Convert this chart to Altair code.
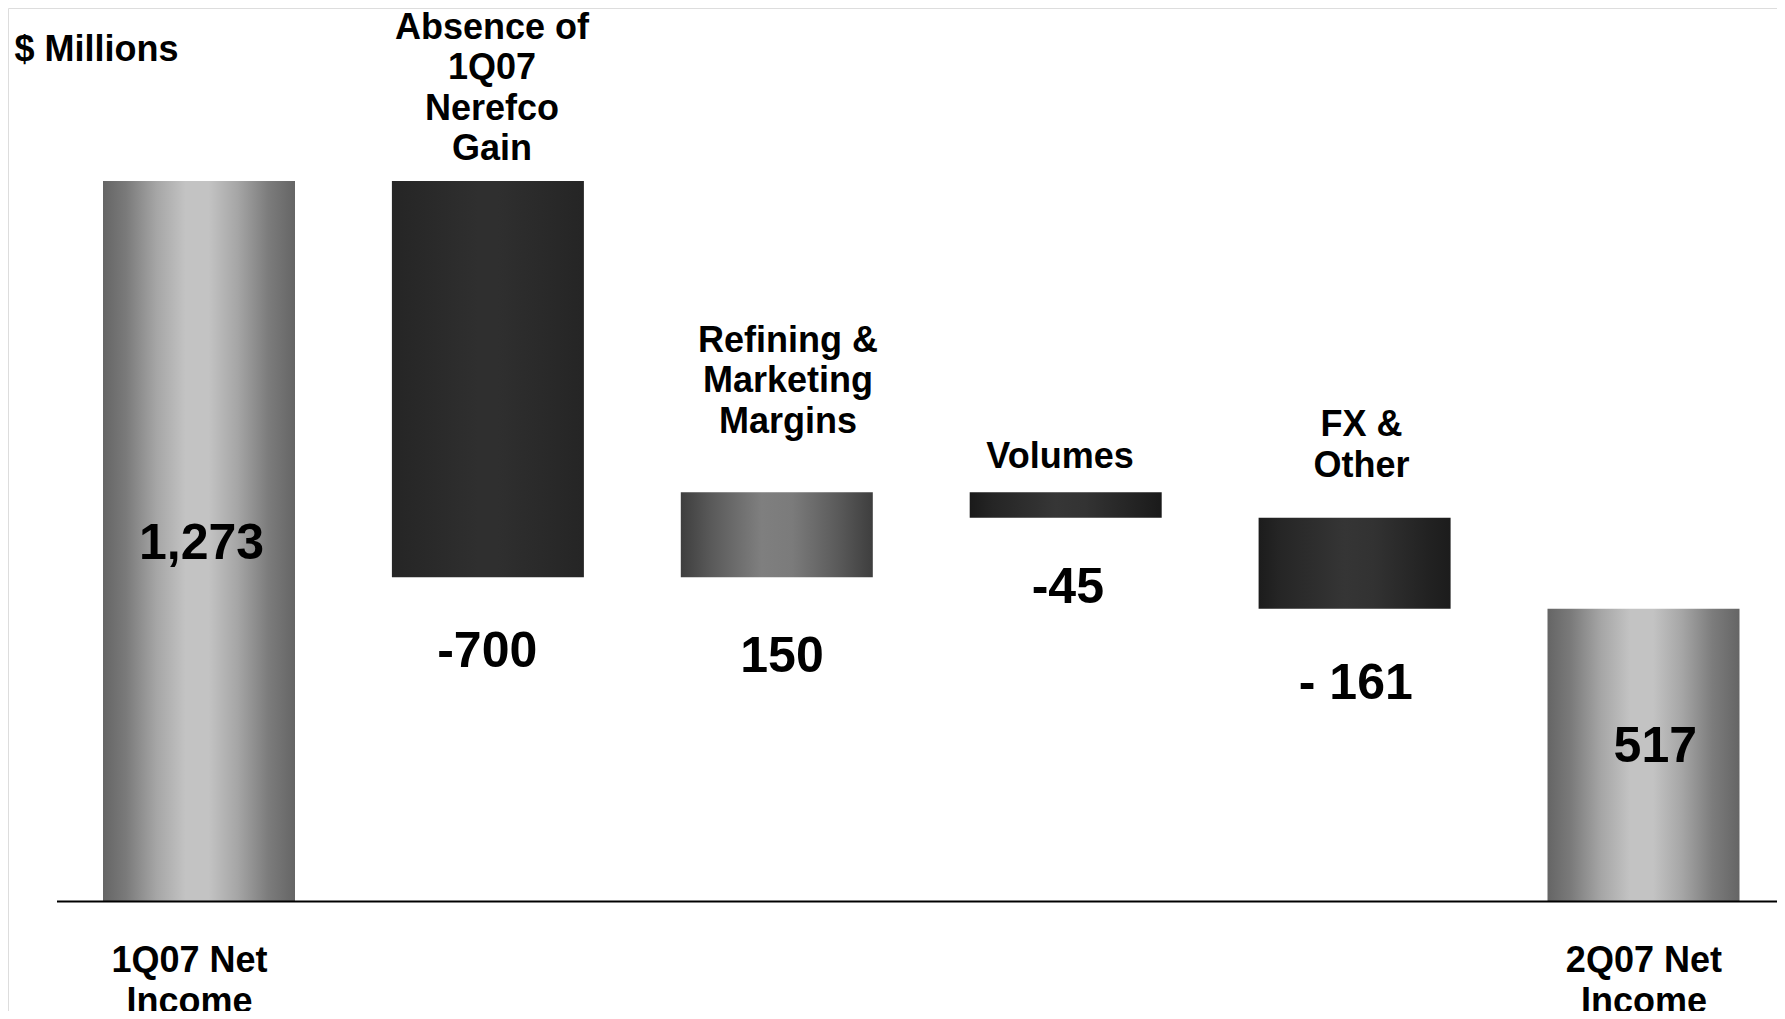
import altair as alt
import pandas as pd

# ---------------- data ----------------
categories = [
    "1Q07 Net\nIncome",
    "Absence of\n1Q07\nNerefco\nGain",
    "Refining &\nMarketing\nMargins",
    "Volumes",
    "FX &\nOther",
    "2Q07 Net\nIncome",
]
changes = [1273, -700, 150, -45, -161, 517]
kinds = ["total", "delta", "delta", "delta", "delta", "total"]
value_labels = ["1,273", "-700", "150", "-45", "- 161", "517"]
unit_label = "$ Millions"

# waterfall geometry derived from the values
starts, ends = [], []
running = 0
for c, k in zip(changes, kinds):
    if k == "total":
        starts.append(0)
        ends.append(c)
        running = c
    else:
        starts.append(running)
        running += c
        ends.append(running)

df = pd.DataFrame({
    "idx": list(range(len(categories))),
    "cat": categories,
    "start": starts,
    "end": ends,
    "top": [max(s, e) for s, e in zip(starts, ends)],
    "bottom": [min(s, e) for s, e in zip(starts, ends)],
    "mid": [(s + e) / 2 for s, e in zip(starts, ends)],
    "vlabel": value_labels,
})

# ---------------- styling ----------------
W, H = 1769, 1003
FONT = "Liberation Sans"

def grad(stops):
    return alt.LinearGradient(
        gradient="linear", x1=0, x2=1, y1=0, y2=0,
        stops=[alt.GradientStop(offset=o, color=c) for o, c in stops],
    )

total_grad = [(0, "#656565"), (0.12, "#7a7a7a"), (0.28, "#a6a6a6"), (0.43, "#c3c3c3"),
              (0.55, "#c3c3c3"), (0.7, "#a6a6a6"), (0.86, "#7c7c7c"), (1, "#656565")]
bar_styles = [
    total_grad,
    [(0, "#252525"), (0.45, "#2f2f2f"), (0.55, "#2f2f2f"), (1, "#252525")],
    [(0, "#3e3e3e"), (0.16, "#5a5a5a"), (0.42, "#7f7f7f"), (0.58, "#7b7b7b"), (0.82, "#5a5a5a"), (1, "#3e3e3e")],
    [(0, "#1a1a1a"), (0.12, "#252525"), (0.45, "#363636"), (0.6, "#333333"), (0.88, "#222222"), (1, "#1a1a1a")],
    [(0, "#1c1c1c"), (0.12, "#262626"), (0.45, "#353535"), (0.6, "#323232"), (0.88, "#222222"), (1, "#1c1c1c")],
    total_grad,
]

cat_dx = [-9.5, 4.1, 11.2, -5.7, 7, 0.4]
cat_dy = [43, -170.4, -168.7, -52.6, -109.6, 43]
val_dx = [2.5, -0.7, 5.2, 2.1, 1.2, 11.8]
val_dy = [17.6, 89.6, 95.3, 85.2, 89.8, 7.2]
cat_anchor = ["zero", "top", "top", "top", "top", "zero"]
val_anchor = ["mid", "bottom", "bottom", "bottom", "bottom", "mid"]

x_scale = alt.Scale(domain=categories, range=[95, 1731.5], paddingInner=0.3354, paddingOuter=0)
y_scale = alt.Scale(domain=[-193.5, 1578.6], nice=False, zero=False)

X = alt.X("cat:N", scale=x_scale, axis=None, sort=categories)

base = alt.Chart(df)
layers = []

# bars
for i in range(len(categories)):
    layers.append(
        base.transform_filter(alt.datum.idx == i)
        .mark_bar(color=grad(bar_styles[i]), cornerRadius=0)
        .encode(
            x=X,
            y=alt.Y("start:Q", scale=y_scale, axis=None),
            y2="end:Q",
        )
    )

# baseline
layers.append(
    alt.Chart(pd.DataFrame({"v": [0]})).mark_rule(color="#000000", strokeWidth=2).encode(
        y=alt.Y("v:Q", scale=y_scale, axis=None),
        x=alt.value(49),
        x2=alt.value(W),
    )
)

# category labels
for i in range(len(categories)):
    if cat_anchor[i] == "zero":
        yenc = alt.Y("zero:Q", scale=y_scale, axis=None)
        src = base.transform_filter(alt.datum.idx == i).transform_calculate(zero="0")
    else:
        yenc = alt.Y("top:Q", scale=y_scale, axis=None)
        src = base.transform_filter(alt.datum.idx == i)
    layers.append(
        src.mark_text(
            font=FONT, fontSize=36, fontWeight="bold", color="#000000",
            align="center", baseline="top", lineBreak="\n", lineHeight=40.5,
            dx=cat_dx[i], dy=cat_dy[i],
        ).encode(x=X, y=yenc, text="cat:N")
    )

# value labels
for i in range(len(categories)):
    layers.append(
        base.transform_filter(alt.datum.idx == i)
        .mark_text(
            font=FONT, fontSize=50, fontWeight="bold", color="#000000",
            align="center", baseline="alphabetic",
            dx=val_dx[i], dy=val_dy[i],
        )
        .encode(x=X, y=alt.Y(f"{val_anchor[i]}:Q", scale=y_scale, axis=None), text="vlabel:N")
    )

# unit label
layers.append(
    alt.Chart(pd.DataFrame({"t": [unit_label]})).mark_text(
        font=FONT, fontSize=36, fontWeight="bold", color="#000000",
        align="left", baseline="top",
    ).encode(x=alt.value(6.5), y=alt.value(24.6), text="t:N")
)

chart = alt.layer(*layers).properties(
    width=W, height=H, padding=0,
    autosize=alt.AutoSizeParams(type="none"),
).configure_view(strokeWidth=0, stroke="transparent").configure(background="transparent")

chart.save("out.html", embed_options={"renderer": "svg", "actions": False})
